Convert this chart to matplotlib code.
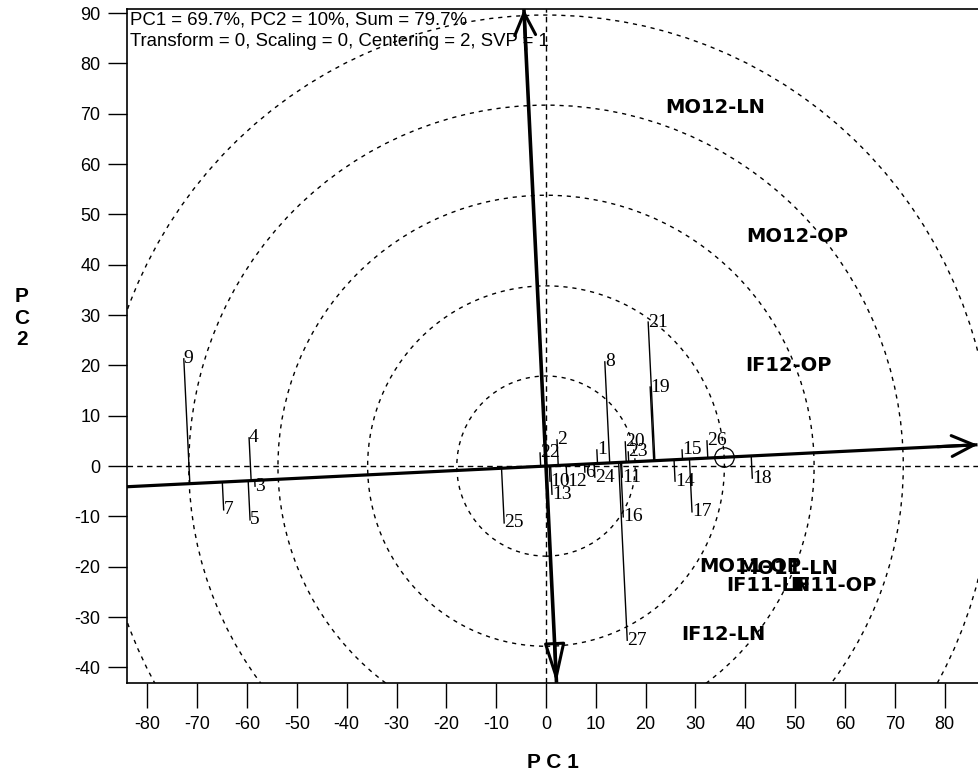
import numpy as np
import matplotlib
matplotlib.use('Agg')
import matplotlib.pyplot as plt
from matplotlib.patches import Circle

plt.rcParams['axes.unicode_minus'] = False

# ---------------- data ----------------
genotypes = [str(i) for i in range(1, 28)]
g_pc1 = [10.2, 2.2, -58.4, -59.6, -59.4, 7.8, -64.7, 11.8, -72.7, 0.8,
         15.3, 4.2, 1.2, 25.9, 27.3, 15.5, 29.3, 41.4, 20.9, 15.9,
         20.5, -1.2, 16.5, 9.8, -8.4, 32.3, 16.3]
g_pc2 = [3.2, 5.2, -4.0, 5.6, -10.7, -1.2, -8.7, 20.7, 21.3, -3.0,
         -2.2, -3.0, -5.6, -3.0, 3.2, -10.1, -9.1, -2.4, 15.7, 4.8,
         28.6, 2.6, 2.8, -2.2, -11.3, 5.0, -34.6]

environments = ['MO12-LN', 'MO12-OP', 'IF12-OP', 'IF12-LN',
                'MO11-OP', 'MO11-LN', 'IF11-LN', 'IF11-OP']
e_pc1 = [33.9, 50.4, 48.6, 35.5, 41.0, 48.6, 44.6, 57.6]
e_pc2 = [71.2, 45.7, 19.9, -33.4, -19.9, -20.3, -23.7, -23.7]

aec = [35.8, 1.75]                      # average environment / ideal point
circle_radii = [17.9, 35.8, 53.8, 71.7, 89.6]
xticks = list(range(-80, 81, 10))
yticks = list(range(-40, 91, 10))
header = ['PC1 = 69.7%, PC2 = 10%, Sum = 79.7%',
          'Transform = 0, Scaling = 0, Centering = 2, SVP = 1']
xlabel = 'P C 1'
ylabel = 'P\nC\n2'

# ---------------- figure ----------------
W, H = 979, 782
fig = plt.figure(figsize=(W / 100, H / 100), dpi=100)
ax = fig.add_axes([127 / W, 1 - 683 / H, 852 / W, 674 / H])
xmin, xmax = -84.1, 86.9
ymin, ymax = -43.1, 90.8
ax.set_xlim(xmin, xmax)
ax.set_ylim(ymin, ymax)

# concentric circles
for r in circle_radii:
    ax.add_patch(Circle((0, 0), r, fill=False, ec='black', lw=1.0,
                        ls=(0, (3, 3.5))))

# dashed origin axes
ax.axhline(0, color='black', lw=1.0, ls=(0, (4, 3)))
ax.axvline(0, color='black', lw=1.0, ls=(0, (4, 3)))

# AEC abscissa and ordinate
u = np.array(aec) / np.hypot(*aec)
v = np.array([-u[1], u[0]])
left_pt = u * (xmin / u[0])
right_tip = u * ((xmax - 0.3) / u[0])
top_tip = v * ((ymax - 0.05) / v[1])
bot_tip = v * ((ymin + 0.05) / v[1])

ax.plot([left_pt[0], right_tip[0]], [left_pt[1], right_tip[1]],
        color='black', lw=2.3, solid_capstyle='butt', zorder=4)
ax.plot([bot_tip[0], top_tip[0]], [bot_tip[1], top_tip[1]],
        color='black', lw=2.6, solid_capstyle='butt', zorder=4)

def head(tip, d, style, fc='black'):
    ax.annotate('', xy=tuple(tip), xytext=tuple(tip - 8 * d),
                arrowprops=dict(arrowstyle=style, lw=2.2, color='black',
                                fc=fc, shrinkA=0, shrinkB=0),
                zorder=5, annotation_clip=False)

head(right_tip, u, '->,head_length=1.6,head_width=0.75')
head(top_tip, v, '->,head_length=1.6,head_width=0.75')
head(bot_tip, -v, '-|>,head_length=2.4,head_width=0.65', fc='none')

# ideal point marker
ax.plot(aec[0], aec[1], 'o', mfc='none', mec='black', ms=14, mew=0.9, zorder=5)

# genotypes: projection lines + labels
for name, x, y in zip(genotypes, g_pc1, g_pc2):
    p = np.array([x, y])
    foot = u * (p @ u)
    ax.plot([x, foot[0]], [y, foot[1]], color='black', lw=1.0, zorder=3)
    ax.text(x, y, name, ha='left', va='center', fontsize=14,
            family='Liberation Serif', color='black', zorder=6)

# environments
for name, x, y in zip(environments, e_pc1, e_pc2):
    ax.text(x, y, name, ha='center', va='center', fontsize=14,
            fontweight='bold', family='DejaVu Sans', color='black', zorder=6)

# ticks and spines
ax.set_xticks(xticks)
ax.set_yticks(yticks)
ax.tick_params(axis='x', direction='out', length=18, width=1.0, pad=6,
               labelsize=13)
ax.tick_params(axis='y', direction='out', length=14, width=1.0, pad=5,
               labelsize=13)
for lab in ax.get_xticklabels() + ax.get_yticklabels():
    lab.set_family('Liberation Sans')
ax.spines['right'].set_visible(False)
for s in ['left', 'bottom', 'top']:
    ax.spines[s].set_linewidth(1.2)

# header text
fig.text(130 / W, 1 - 20 / H, header[0], ha='left', va='center',
         fontsize=13.4, family='Liberation Sans')
fig.text(130 / W, 1 - 42 / H, header[1], ha='left', va='center',
         fontsize=13.4, family='Liberation Sans')

# axis titles
fig.text(553 / W, 1 - 763 / H, xlabel, ha='center', va='center',
         fontsize=15, fontweight='bold', family='Liberation Sans')
fig.text(22 / W, 1 - 318 / H, ylabel, ha='center', va='center',
         fontsize=15, fontweight='bold', family='Liberation Sans',
         linespacing=1.15)

fig.savefig('out.png', dpi=100)
